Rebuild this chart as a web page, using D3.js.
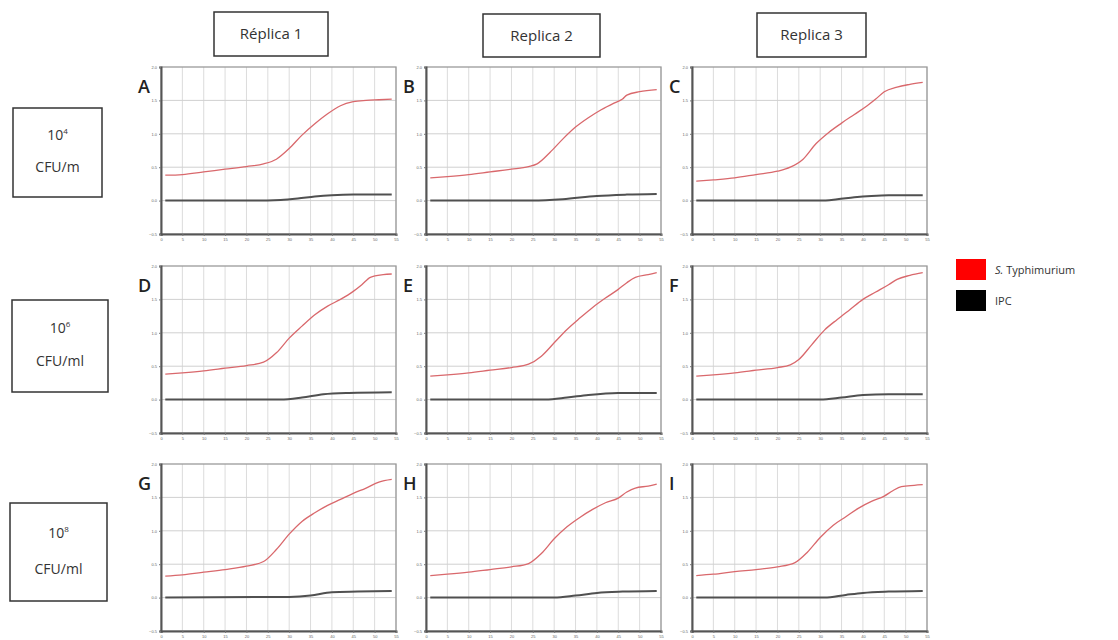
<!DOCTYPE html>
<html>
<head>
<meta charset="utf-8">
<script src="https://cdn.jsdelivr.net/npm/d3@7"></script>
<style>
  body { margin: 0; background: #fff; }
  svg { font-family: "Open Sans", "DejaVu Sans", sans-serif; }
</style>
</head>
<body>
<div id="chart"></div>
<script>
// column / row headers
const replicas = ["Réplica 1", "Replica 2", "Replica 3"];
const concentrations = [["10", "4", "CFU/m"], ["10", "6", "CFU/ml"], ["10", "8", "CFU/ml"]];
const panelLetters = ["A", "B", "C", "D", "E", "F", "G", "H", "I"];

const xTicks = [0, 5, 10, 15, 20, 25, 30, 35, 40, 45, 50, 55];
const yTicks = [-0.5, 0, 0.5, 1, 1.5, 2];

// S. Typhimurium curves, [cycle, signal]
const redA = [[1,0.38],[5,0.39],[10,0.43],[15,0.47],[20,0.51],[24,0.55],[27,0.62],[30,0.78],[33,0.98],[36,1.15],[39,1.3],[42,1.42],[45,1.48],[48,1.5],[51,1.51],[54,1.52]];
const redB = [[1,0.34],[5,0.36],[10,0.39],[15,0.43],[20,0.47],[24,0.51],[26,0.55],[29,0.72],[32,0.92],[35,1.1],[38,1.24],[41,1.36],[44,1.46],[46,1.52],[47,1.58],[50,1.63],[54,1.66]];
const redC = [[1,0.29],[5,0.31],[10,0.34],[15,0.39],[20,0.44],[23,0.5],[26,0.62],[29,0.85],[32,1.02],[35,1.16],[38,1.29],[41,1.42],[43,1.52],[45,1.63],[48,1.7],[51,1.74],[54,1.77]];
const redD = [[1,0.38],[5,0.4],[10,0.43],[15,0.47],[20,0.51],[24,0.56],[27,0.7],[30,0.92],[33,1.1],[36,1.27],[39,1.4],[42,1.5],[45,1.62],[47,1.72],[49,1.83],[52,1.87],[54,1.88]];
const redE = [[1,0.35],[5,0.37],[10,0.4],[15,0.44],[20,0.48],[24,0.53],[27,0.65],[30,0.85],[33,1.05],[36,1.22],[39,1.38],[42,1.52],[45,1.65],[47,1.75],[49,1.83],[52,1.87],[54,1.9]];
const redF = [[1,0.35],[5,0.37],[10,0.4],[15,0.44],[20,0.48],[23,0.52],[25,0.6],[28,0.82],[31,1.04],[34,1.2],[37,1.35],[40,1.5],[43,1.61],[46,1.72],[48,1.8],[51,1.86],[54,1.9]];
const redG = [[1,0.32],[5,0.34],[10,0.38],[15,0.42],[20,0.47],[24,0.54],[27,0.72],[30,0.95],[33,1.14],[36,1.27],[39,1.38],[42,1.47],[45,1.56],[48,1.64],[51,1.73],[54,1.77]];
const redH = [[1,0.33],[5,0.35],[10,0.38],[15,0.42],[20,0.46],[24,0.51],[27,0.66],[30,0.88],[33,1.06],[36,1.2],[39,1.32],[42,1.42],[45,1.49],[47,1.58],[49,1.64],[52,1.67],[54,1.7]];
const redI = [[1,0.33],[5,0.35],[10,0.39],[15,0.42],[20,0.46],[24,0.52],[27,0.68],[30,0.9],[33,1.08],[36,1.21],[39,1.34],[42,1.44],[45,1.52],[47,1.6],[49,1.66],[52,1.68],[54,1.69]];

// IPC curves
const ipcA = [[1,0],[10,0],[20,0],[28,0.01],[32,0.03],[36,0.06],[40,0.08],[45,0.09],[54,0.09]];
const ipcB = [[1,0],[25,0],[32,0.02],[40,0.07],[47,0.09],[54,0.1]];
const ipcC = [[1,0],[30,0],[34,0.02],[38,0.05],[42,0.07],[46,0.08],[54,0.08]];
const ipcD = [[1,0],[28,0],[33,0.03],[38,0.08],[44,0.1],[54,0.11]];
const ipcE = [[1,0],[28,0],[33,0.03],[38,0.07],[45,0.1],[54,0.1]];
const ipcF = [[1,0],[30,0],[35,0.03],[40,0.07],[46,0.08],[54,0.08]];
const ipcG = [[1,0],[30,0.01],[35,0.03],[40,0.08],[46,0.09],[54,0.1]];
const ipcH = [[1,0],[30,0],[35,0.03],[40,0.07],[46,0.09],[54,0.1]];
const ipcI = [[1,0],[31,0],[36,0.04],[40,0.07],[46,0.09],[54,0.1]];

const redSeries = [redA, redB, redC, redD, redE, redF, redG, redH, redI];
const ipcSeries = [ipcA, ipcB, ipcC, ipcD, ipcE, ipcF, ipcG, ipcH, ipcI];

const width = 1118, height = 640;
const svg = d3.select("#chart").append("svg")
    .attr("width", width)
    .attr("height", height);

// panel grid
const colX = [161, 426, 692];
const rowY = [67, 266, 464];
const pw = 235, ph = 167;

const x = d3.scaleLinear().domain([0, 55]).range([0, pw]);
const y = d3.scaleLinear().domain([-0.5, 2]).range([ph, 0]);

const line = d3.line()
    .x(d => x(d[0]))
    .y(d => y(d[1]))
    .curve(d3.curveMonotoneX);

panelLetters.forEach((letter, i) => {
  const col = i % 3, row = Math.floor(i / 3);
  const g = svg.append("g")
      .attr("transform", `translate(${colX[col]},${rowY[row]})`);

  // vertical + horizontal gridlines
  g.append("g").selectAll("line")
    .data(xTicks.slice(1))
    .join("line")
      .attr("x1", d => x(d)).attr("x2", d => x(d))
      .attr("y1", 0).attr("y2", ph)
      .attr("stroke", "#dcdcdc").attr("stroke-width", 1);
  g.append("g").selectAll("line")
    .data(yTicks.slice(1, -1))
    .join("line")
      .attr("x1", 0).attr("x2", pw)
      .attr("y1", d => y(d)).attr("y2", d => y(d))
      .attr("stroke", "#d0d0d0").attr("stroke-width", 1);

  // frame top/right
  g.append("rect")
    .attr("width", pw).attr("height", ph)
    .attr("fill", "none").attr("stroke", "#9a9a9a").attr("stroke-width", 1.3);

  // axes
  const xa = g.append("g")
    .attr("transform", `translate(0,${ph})`)
    .call(d3.axisBottom(x).tickValues(xTicks).tickSize(2).tickPadding(2));
  const ya = g.append("g")
    .call(d3.axisLeft(y).tickValues(yTicks).tickSize(2).tickPadding(2));
  [xa, ya].forEach(a => {
    a.select(".domain").attr("stroke", "#555").attr("stroke-width", 2);
    a.selectAll(".tick line").attr("stroke", "#777");
    a.selectAll("text").attr("font-size", 4).attr("fill", "#666");
  });

  // curves
  g.append("path")
    .datum(ipcSeries[i])
    .attr("fill", "none")
    .attr("stroke", "#505050")
    .attr("stroke-width", 2)
    .attr("d", line);
  g.append("path")
    .datum(redSeries[i])
    .attr("fill", "none")
    .attr("stroke", "#d9686c")
    .attr("stroke-width", 1.3)
    .attr("d", line);

  g.append("text")
    .attr("x", -23).attr("y", 26)
    .attr("font-size", 18)
    .attr("font-weight", 600)
    .attr("fill", "#222")
    .text(letter);
});

// column header boxes
const headBoxes = [[214, 12, 114, 44], [483, 14, 117, 43], [757, 13, 109, 44]];
replicas.forEach((r, i) => {
  const [bx, by, bw, bh] = headBoxes[i];
  svg.append("rect")
    .attr("x", bx).attr("y", by).attr("width", bw).attr("height", bh)
    .attr("fill", "#fff").attr("stroke", "#333").attr("stroke-width", 1.5);
  svg.append("text")
    .attr("x", bx + bw / 2).attr("y", by + bh / 2 + 5)
    .attr("text-anchor", "middle")
    .attr("font-size", 15)
    .attr("font-weight", 500)
    .attr("fill", "#333")
    .text(r);
});

// row label boxes
const rowBoxes = [[13, 108, 89, 89], [12, 300, 96, 92], [10, 503, 97, 98]];
concentrations.forEach((c, i) => {
  const [bx, by, bw, bh] = rowBoxes[i];
  svg.append("rect")
    .attr("x", bx).attr("y", by).attr("width", bw).attr("height", bh)
    .attr("fill", "#fff").attr("stroke", "#333").attr("stroke-width", 1.5);
  const t = svg.append("text")
    .attr("x", bx + bw / 2).attr("y", by + bh * 0.36)
    .attr("text-anchor", "middle")
    .attr("font-size", 14)
    .attr("fill", "#333");
  t.append("tspan").text(c[0]);
  t.append("tspan").attr("font-size", 8).attr("dy", -6).text(c[1]);
  svg.append("text")
    .attr("x", bx + bw / 2).attr("y", by + bh * 0.72)
    .attr("text-anchor", "middle")
    .attr("font-size", 14)
    .attr("fill", "#333")
    .text(c[2]);
});

// legend
const legend = svg.append("g").attr("transform", "translate(956,259)");
legend.append("rect").attr("width", 30).attr("height", 21).attr("fill", "#ff0000");
legend.append("rect").attr("y", 31).attr("width", 30).attr("height", 21).attr("fill", "#000");
const lt = legend.append("text")
  .attr("x", 39).attr("y", 15)
  .attr("font-size", 11).attr("fill", "#333");
lt.append("tspan").attr("font-style", "italic").text("S.");
lt.append("tspan").text(" Typhimurium");
legend.append("text")
  .attr("x", 39).attr("y", 46)
  .attr("font-size", 11).attr("fill", "#333")
  .text("IPC");
</script>
</body>
</html>
